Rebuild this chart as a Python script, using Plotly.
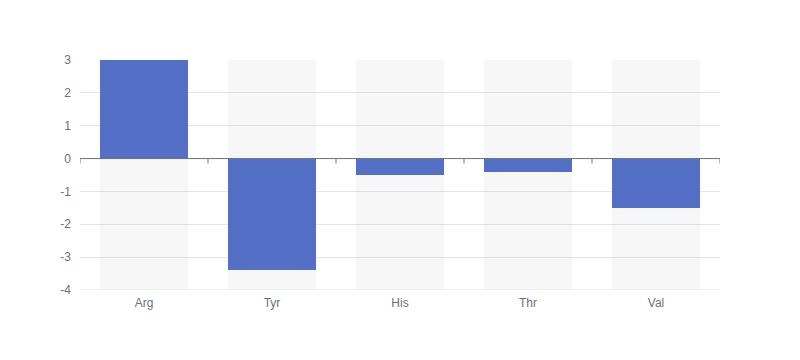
import plotly.graph_objects as go

categories = ["Arg", "Tyr", "His", "Thr", "Val"]
values = [3, -3.4, -0.5, -0.4, -1.5]
y_min, y_max = -4, 3
y_ticks = [-4, -3, -2, -1, 0, 1, 2, 3]
y_tick_labels = ["-4", "-3", "-2", "-1", "0", "1", "2", "3"]

xs = list(range(len(categories)))
bar_w = 0.6875

fig = go.Figure()
fig.add_trace(go.Bar(
    x=xs, y=[y_max - y_min] * len(xs), base=[y_min] * len(xs),
    width=bar_w, marker=dict(color="rgba(180,180,180,0.1)", line=dict(width=0)),
    hoverinfo="skip", showlegend=False))
fig.add_trace(go.Bar(
    x=xs, y=values, width=bar_w,
    marker=dict(color="#5470c6", line=dict(width=0)),
    showlegend=False))

shapes = []
shapes.append(dict(type="line", xref="x", yref="y", x0=-0.5, x1=len(categories) - 0.5,
                   y0=y_min, y1=y_min, line=dict(color="#E0E6F1", width=1), layer="above"))
for i in range(len(categories) + 1):
    shapes.append(dict(type="line", xref="x", yref="y", x0=i - 0.5, x1=i - 0.5,
                       ysizemode="pixel", yanchor=0, y0=0, y1=-5,
                       line=dict(color="#6E7079", width=1)))
shapes.append(dict(type="line", xref="x", yref="y", x0=-0.5, x1=len(categories) - 0.5,
                   y0=0, y1=0, line=dict(color="#6E7079", width=1)))

fig.update_layout(
    width=792, height=352,
    margin=dict(l=72, r=80, t=52, b=70),
    paper_bgcolor="white", plot_bgcolor="white",
    barmode="overlay", bargap=0,
    font=dict(family="sans-serif", size=12, color="#6E7079"),
    shapes=shapes,
    xaxis=dict(range=[-0.5, len(categories) - 0.5], tickvals=xs, ticktext=categories,
               showgrid=False, zeroline=False, showline=False, ticks="",
               ticklabelstandoff=4,
               tickfont=dict(color="#6E7079", size=12), fixedrange=True),
    yaxis=dict(range=[y_min, y_max], tickvals=y_ticks, ticktext=y_tick_labels,
               showgrid=True, gridcolor="#E0E6F1", gridwidth=1, zeroline=False,
               showline=False, ticks="", ticklabelstandoff=8,
               tickfont=dict(color="#6E7079", size=12), fixedrange=True),
)
fig.write_html("out.html")
